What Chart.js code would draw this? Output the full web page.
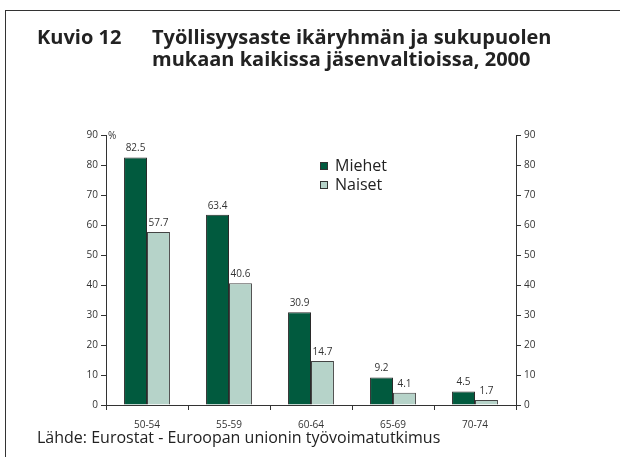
<!DOCTYPE html>
<html>
<head>
<meta charset="utf-8">
<script src="https://cdn.jsdelivr.net/npm/chart.js@4/dist/chart.umd.min.js"></script>
<style>
  html, body { margin:0; padding:0; background:#fff; }
  #wrap { position:relative; width:620px; height:457px; overflow:hidden; font-family:"Open Sans", sans-serif; color:#222; }
  #frame { position:absolute; left:5px; top:10px; width:640px; height:470px; border-left:1px solid #333; border-top:1px solid #333; }
  canvas { position:absolute; left:0; top:0; }
  .t { position:absolute; white-space:nowrap; }
  #k { left:37px; top:26px; font-weight:bold; font-size:20px; line-height:22px; }
  #t1 { left:152px; top:26px; font-weight:bold; font-size:20px; line-height:22px; }
  #src { left:37px; top:426px; font-size:16px; }
  #pct { left:108px; top:128px; font-size:10px; color:#333; }
  .leg { position:absolute; font-size:16px; color:#222; white-space:nowrap; }
  .sw { position:absolute; width:6px; height:6px; border:1px solid #333; }
</style>
</head>
<body>
<div id="wrap">
  <div id="frame"></div>
  <canvas id="c" width="620" height="457"></canvas>
  <div class="t" id="k">Kuvio 12</div>
  <div class="t" id="t1">Työllisyysaste ikäryhmän ja sukupuolen<br>mukaan kaikissa jäsenvaltioissa, 2000</div>
  <div class="t" id="pct">%</div>
  <div class="sw" style="left:320px;top:162px;background:#015a3e"></div>
  <div class="leg" style="left:335px;top:154px">Miehet</div>
  <div class="sw" style="left:320px;top:181px;background:#b6d3c9"></div>
  <div class="leg" style="left:335px;top:173px">Naiset</div>
  <div class="t" id="src">Lähde: Eurostat - Euroopan unionin työvoimatutkimus</div>
</div>
<script>
const categories = ['50-54', '55-59', '60-64', '65-69', '70-74'];
const miehet = [82.5, 63.4, 30.9, 9.2, 4.5];
const naiset = [57.7, 40.6, 14.7, 4.1, 1.7];
const seriesNames = ['Miehet', 'Naiset'];
const yMin = 0, yMax = 90, yStep = 10;

const valueLabels = {
  id: 'valueLabels',
  afterDatasetsDraw(chart) {
    const ctx = chart.ctx;
    ctx.save();
    ctx.font = '10px "Open Sans", sans-serif';
    ctx.fillStyle = '#333';
    ctx.textAlign = 'center';
    ctx.textBaseline = 'bottom';
    chart.data.datasets.forEach((ds, i) => {
      chart.getDatasetMeta(i).data.forEach((bar, j) => {
        ctx.fillText(ds.data[j].toFixed(1), bar.x, bar.y - 4);
      });
    });
    ctx.restore();
  }
};

const axisCommon = {
  min: yMin, max: yMax,
  grid: { drawOnChartArea: false, tickLength: 5, color: '#333' },
  border: { color: '#333', width: 1 },
  ticks: { stepSize: yStep, color: '#333', font: { size: 10, family: '"Open Sans", sans-serif' }, padding: 3 }
};

new Chart(document.getElementById('c'), {
  type: 'bar',
  data: {
    labels: categories,
    datasets: [
      { label: seriesNames[0], data: miehet, backgroundColor: '#015a3e', borderColor: '#2a2a2a', borderWidth: 1, borderSkipped: 'bottom' },
      { label: seriesNames[1], data: naiset, backgroundColor: '#b6d3c9', borderColor: '#444', borderWidth: 1, borderSkipped: 'bottom' }
    ]
  },
  options: {
    responsive: false,
    animation: false,
    events: [],
    layout: { padding: { top: 135, left: 0, right: 0, bottom: 0 } },
    datasets: { bar: { barPercentage: 1.0, categoryPercentage: 0.56 } },
    plugins: { legend: { display: false }, tooltip: { enabled: false }, title: { display: false } },
    scales: {
      x: {
        grid: { offset: true, drawOnChartArea: false, tickLength: 5, color: '#333' },
        border: { color: '#333', width: 1 },
        ticks: { color: '#333', font: { size: 10, family: '"Open Sans", sans-serif' }, padding: 9 },
        afterFit(s) { s.height = 52; }
      },
      y: Object.assign({}, axisCommon, { position: 'left', afterFit(s) { s.width = 106; } }),
      y2: Object.assign({}, axisCommon, { position: 'right', afterFit(s) { s.width = 104; } })
    }
  },
  plugins: [valueLabels]
});
</script>
</body>
</html>
